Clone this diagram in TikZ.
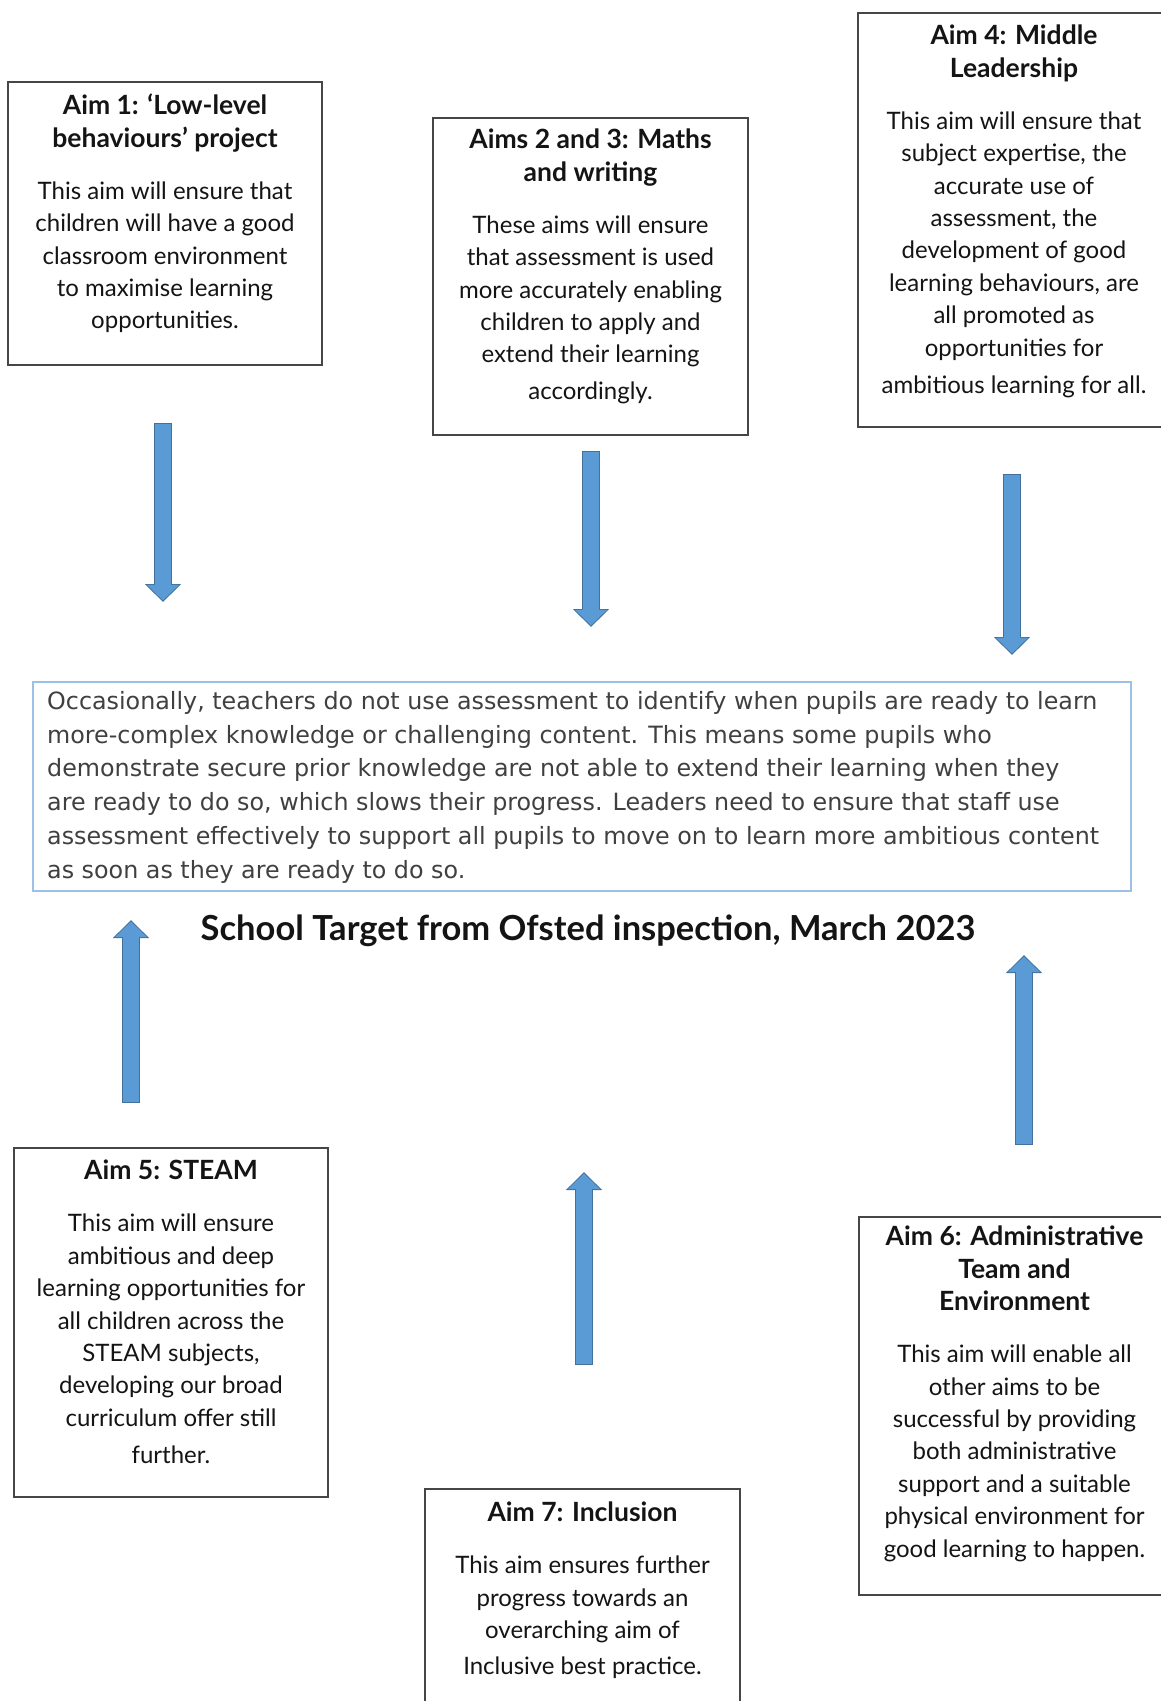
\documentclass[tikz,border=0pt]{standalone}
\usepackage{fontspec}
\setmainfont{Lato}
\newfontfamily\targetfont{DejaVu Sans}
\usepackage{xcolor}
\usetikzlibrary{arrows.meta}

\definecolor{arrowfill}{RGB}{91,155,213}
\definecolor{arrowedge}{RGB}{65,113,156}
\definecolor{targetedge}{RGB}{155,194,230}
\definecolor{boxedge}{RGB}{70,70,70}
\definecolor{targettext}{RGB}{64,64,64}
\definecolor{aimtextcol}{RGB}{20,20,20}

\newcommand{\hd}{\fontsize{26.5}{32}\selectfont\bfseries}
\newcommand{\bd}{\fontsize{24}{32.4}\selectfont\mdseries}

\tikzset{
  aimbox/.style={draw=boxedge, line width=1.9pt, inner sep=0pt},
  aimtext/.style={anchor=north, align=center, inner sep=0pt, text=aimtextcol,
    font=\fontsize{24}{32.4}\selectfont},
}

\begin{document}
\begin{tikzpicture}[x=1pt, y=-1pt]
        \useasboundingbox[fill=white] (0,0) rectangle (1161,1701);

        %TARGET
        \node[draw=targetedge, line width=1.5pt, minimum width=1098pt, minimum height=209pt] (target) at (582,786.5) {};
        \node[anchor=north west, align=left, inner sep=0pt, text=targettext,
          font=\targetfont\fontsize{23.8}{33.8}\selectfont] (targettxt) at (47,691)
          {Occasionally, teachers do not use assessment to identify when pupils are ready to learn\\
           more-complex knowledge or challenging content. This means some pupils who\\
           demonstrate secure prior knowledge are not able to extend their learning when they\\
           are ready to do so, which slows their progress. Leaders need to ensure that staff use\\
           assessment effectively to support all pupils to move on to learn more ambitious content\\
           as soon as they are ready to do so.};
        \node[font=\fontsize{34.5}{40}\selectfont\bfseries, text=aimtextcol] (title) at (588,931)
          {School Target from Ofsted inspection, March 2023};

        %AIM BOXES
        \node[aimbox, minimum width=314pt, minimum height=283pt] (aim1) at (165,223.5) {};
        \node[aimbox, minimum width=315pt, minimum height=317pt] (aim23) at (590.5,276.5) {};
        \node[aimbox, minimum width=312pt, minimum height=414pt] (aim4) at (1014,220) {};
        \node[aimbox, minimum width=314pt, minimum height=349pt] (aim5) at (171,1322.5) {};
        \node[aimbox, minimum width=311pt, minimum height=378pt] (aim6) at (1014.5,1406) {};
        \node[aimbox, minimum width=315pt, minimum height=240pt] (aim7) at (582.5,1609) {};

        %AIM TEXTS
        \node[aimtext] (aim1txt) at ([yshift=-13pt]aim1.north)
          {\hd Aim 1: ‘Low-level\\ \hd behaviours’ project\\[19.6pt]
           \bd This aim will ensure that\\ \bd children will have a good\\ \bd classroom environment\\
           \bd to maximise learning\\ \bd opportunities.};
        \node[aimtext] (aim23txt) at ([yshift=-12pt]aim23.north)
          {\hd Aims 2 and 3: Maths\\ \hd and writing\\[19.6pt]
           \bd These aims will ensure\\ \bd that assessment is used\\ \bd more accurately enabling\\
           \bd children to apply and\\ \bd extend their learning\\[4.5pt] \bd accordingly.};
        \node[aimtext] (aim4txt) at ([yshift=-13pt]aim4.north)
          {\hd Aim 4: Middle\\ \hd Leadership\\[19.6pt]
           \bd This aim will ensure that\\ \bd subject expertise, the\\ \bd accurate use of\\
           \bd assessment, the\\ \bd development of good\\ \bd learning behaviours, are\\
           \bd all promoted as\\ \bd opportunities for\\[4.5pt] \bd ambitious learning for all.};
        \node[aimtext] (aim5txt) at ([yshift=-13pt]aim5.north)
          {\hd Aim 5: STEAM\\[19.6pt]
           \bd This aim will ensure\\ \bd ambitious and deep\\ \bd learning opportunities for\\
           \bd all children across the\\ \bd STEAM subjects,\\ \bd developing our broad\\
           \bd curriculum offer still\\[5pt] \bd further.};
        \node[aimtext] (aim6txt) at ([yshift=-10pt]aim6.north)
          {\hd Aim 6: Administrative\\ \hd Team and\\ \hd Environment\\[19.6pt]
           \bd This aim will enable all\\ \bd other aims to be\\ \bd successful by providing\\
           \bd both administrative\\ \bd support and a suitable\\ \bd physical environment for\\
           \bd good learning to happen.};
        \node[aimtext] (aim7txt) at ([yshift=-14pt]aim7.north)
          {\hd Aim 7: Inclusion\\[19.6pt]
           \bd This aim ensures further\\ \bd progress towards an\\ \bd overarching aim of\\[3.5pt]
           \bd Inclusive best practice.};

        %ARROWS
        \coordinate (a1s) at (163,423);  \coordinate (a1e) at (163,602);
        \coordinate (a2s) at (591,451);  \coordinate (a2e) at (591,627);
        \coordinate (a4s) at (1012,474); \coordinate (a4e) at (1012,655);
        \coordinate (a5s) at (131,1103); \coordinate (a5e) at (131,920);
        \coordinate (a7s) at (584,1365); \coordinate (a7e) at (584,1172);
        \coordinate (a6s) at (1024,1145); \coordinate (a6e) at (1024,955);
        \foreach \s/\e in {a1s/a1e, a2s/a2e, a4s/a4e, a5s/a5e, a7s/a7e, a6s/a6e}{
          \draw[arrowedge, line width=18.5pt, -{Triangle[width=35pt,length=18pt]}] (\s) -- (\e);
          \draw[arrowfill, line width=15.5pt, shorten <=1.2pt, shorten >=1.6pt,
            -{Triangle[width=31pt,length=15.5pt]}] (\s) -- (\e);
        }
    \end{tikzpicture}
\end{document}
